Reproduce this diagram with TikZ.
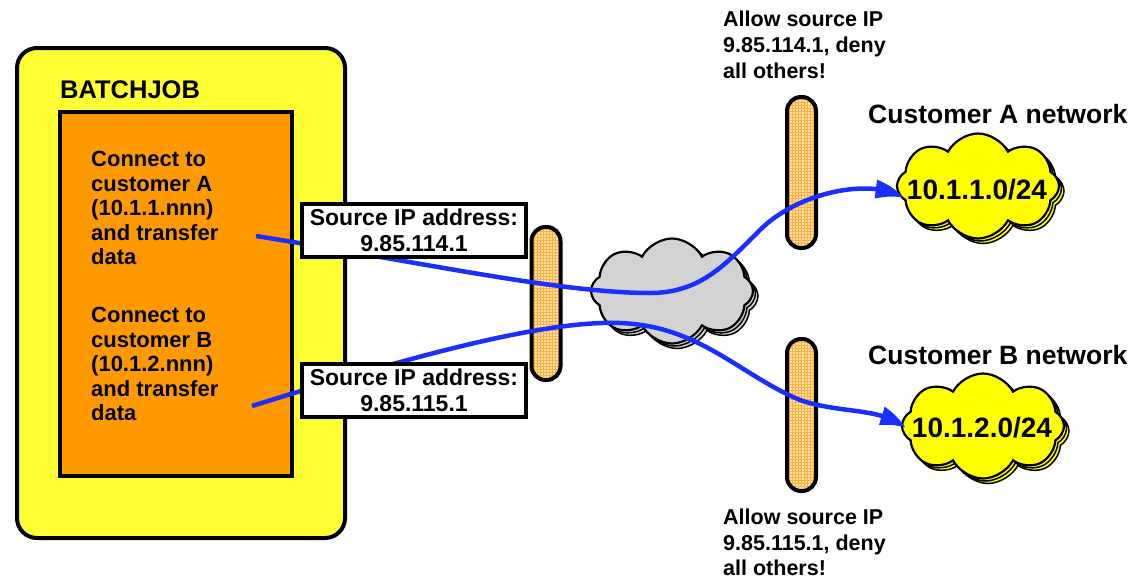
\documentclass[tikz,border=0pt]{standalone}
\usepackage{fontspec}
\setmainfont{Liberation Sans}
\usetikzlibrary{shapes.symbols,arrows.meta,bending,patterns,calc,shadows}
\definecolor{byellow}{HTML}{FFFF33}
\definecolor{borange}{HTML}{FF9900}
\definecolor{lblue}{HTML}{1A2EFF}
\definecolor{cgray}{HTML}{D3D3D3}
\definecolor{cyellow}{HTML}{FFFF00}
\definecolor{pillfill}{HTML}{FFE0A6}
\definecolor{pillgrid}{HTML}{FFB040}
\begin{document}
\begin{tikzpicture}[x=1pt,y=-1pt,
  txt/.style={font=\fontsize{22}{24.5}\selectfont\bfseries, inner sep=0pt, align=left, anchor=north west},
  srcbox/.style={draw=black, line width=4pt, fill=white, minimum width=224pt, minimum height=53pt, inner sep=0pt, align=center, font=\fontsize{23}{26}\selectfont\bfseries},
  pill/.style={draw=black, line width=4pt, rounded corners=14pt, minimum width=29pt, inner sep=0pt, preaction={fill=pillfill}, pattern=grid, pattern color=pillgrid},
  netcloud/.style={cloud, cloud puffs=8, cloud puff arc=125, cloud ignores aspect, minimum width=162pt, minimum height=105pt, inner sep=0pt, draw=black, line width=2.2pt,
     copy shadow={shadow xshift=5pt, shadow yshift=-5pt, fill=#1, draw=black, line width=1.5pt},
     copy shadow={shadow xshift=2.5pt, shadow yshift=-2.5pt, fill=#1, draw=black, line width=1.5pt},
     fill=#1},
  iptxt/.style={font=\fontsize{28}{30}\selectfont\bfseries, inner sep=0pt},
  nettxt/.style={font=\fontsize{26.5}{28}\selectfont\bfseries, inner sep=0pt, anchor=north west},
  link/.style={draw=lblue, line width=4.5pt, -{Triangle[length=26pt,width=18pt,bend]}}]
\useasboundingbox (0,0) rectangle (1143,579);

% batch job container
\node[draw=black, line width=4pt, fill=byellow, rounded corners=20pt, minimum width=328pt, minimum height=490pt, inner sep=0pt] (job) at (181,293) {};
\node[draw=black, line width=4pt, fill=borange, minimum width=232pt, minimum height=364pt, inner sep=0pt] (inner) at (176,294) {};
\node[txt, font=\fontsize{25.5}{28}\selectfont\bfseries] (title) at (60,80) {BATCHJOB};
\node[txt] (taskA) at (91,151) {Connect to\\customer A\\(10.1.1.nnn)\\and transfer\\data};
\node[txt] (taskB) at (91,307) {Connect to\\customer B\\(10.1.2.nnn)\\and transfer\\data};

% firewalls
\node[pill, minimum height=153pt] (fw1) at (546,303.5) {};
\node[pill, minimum height=151pt] (fw2) at (801.5,172.5) {};
\node[pill, minimum height=152pt] (fw3) at (801.5,415) {};

% clouds
\node[netcloud=cgray] (inet) at (672,291) {};
\node[netcloud=cyellow] (cA) at (978,186) {};
\node[netcloud=cyellow] (cB) at (983,426) {};
\node[iptxt] (ipA) at (977,190) {10.1.1.0/24};
\node[iptxt] (ipB) at (982,428) {10.1.2.0/24};

\node[nettxt] (netA) at (868,104) {Customer A network};
\node[nettxt] (netB) at (868,345) {Customer B network};
\node[txt, font=\fontsize{21.5}{26}\selectfont\bfseries] (ruleA) at (723,11) {Allow source IP\\9.85.114.1, deny\\all others!};
\node[txt, font=\fontsize{21.5}{25.5}\selectfont\bfseries] (ruleB) at (723,509) {Allow source IP\\9.85.115.1, deny\\all others!};

% links
\coordinate (sA) at (256,236);
\coordinate (sB) at (252,406);
\coordinate (tipA) at ($(cA.center)+(-75,12)$);
\coordinate (tipB) at ($(cB.center)+(-78,2)$);
\draw[link] (sA) .. controls (420,262) and (560,293) .. (650,293)
  .. controls (700,293) and (725,265) .. (760,230)
  .. controls (800,190) and (875,178) .. (tipA);
\draw[link] (sB) .. controls (400,360) and (540,320) .. (620,323)
  .. controls (700,326) and (740,375) .. (800,400)
  .. controls (840,414) and (882,407) .. (tipB);

% source address boxes
\node[srcbox] (srcA) at (414,230.5) {Source IP address:\\9.85.114.1};
\node[srcbox] (srcB) at (414,390.5) {Source IP address:\\9.85.115.1};
\end{tikzpicture}
\end{document}
